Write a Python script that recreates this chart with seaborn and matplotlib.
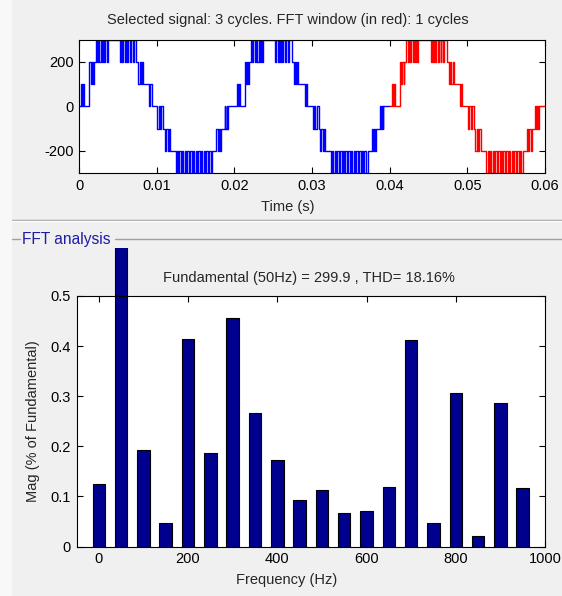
import numpy as np
import pandas as pd
import matplotlib
matplotlib.use("Agg")
import matplotlib.pyplot as plt
import seaborn as sns
from matplotlib.patches import Rectangle
from matplotlib.lines import Line2D

# ---------------- data ----------------
# One cycle of the multilevel PWM voltage:
# switching instants (ms within a 20 ms cycle) and level after the switch
cycle_ms = [0.30, 0.45, 0.55, 0.70, 1.35, 1.50, 1.65, 1.80, 1.90, 2.15, 2.30, 2.45, 2.60, 2.80, 2.95,
            3.15, 3.25, 3.40, 3.55, 3.70, 5.30, 5.40, 5.60, 5.70, 5.90, 6.00, 6.20,
            6.30, 6.55, 6.65, 6.90, 7.05, 7.40, 7.65, 7.80, 7.95, 8.10, 8.25, 9.05,
            9.20, 9.35, 10.10, 10.25, 10.45, 10.60, 10.85, 11.05, 11.20, 11.40, 11.55,
            11.70, 12.45, 12.60, 12.75, 12.90, 13.10, 13.25, 13.45, 13.60, 13.80, 13.95,
            14.15, 14.30, 14.50, 14.65, 14.85, 15.00, 15.20, 15.35, 15.55, 15.70, 15.90,
            16.05, 16.25, 16.40, 16.60, 16.75, 16.95, 17.15, 17.70, 17.85, 18.00, 18.15,
            18.30, 18.75, 18.85, 19.00, 19.10, 19.20]
cycle_level = [100, 0, 100, 0, 200, 100, 200, 100, 200, 300, 200, 300, 200, 300, 200,
               300, 200, 300, 200, 300, 200, 300, 200, 300, 200, 300, 200,
               300, 200, 300, 200, 300, 200, 100, 200, 100, 200, 100, 0,
               100, 0, -100, 0, -100, 0, -100, -200, -100, -200, -100,
               -200, -300, -200, -300, -200, -300, -200, -300, -200, -300, -200,
               -300, -200, -300, -200, -300, -200, -300, -200, -300, -200, -300,
               -200, -300, -200, -300, -200, -300, -200, -100, -200, -100, -200,
               -100, 0, -100, 0, -100, 0]
n_cycles = 3
period_ms = 20.0
fft_window_start_s = 0.04

freq_hz = [0, 50, 100, 150, 200, 250, 300, 350, 400, 450,
           500, 550, 600, 650, 700, 750, 800, 850, 900, 950]
mag_pct = [0.125, 100.0, 0.193, 0.047, 0.414, 0.187, 0.457, 0.267, 0.172, 0.092,
           0.112, 0.066, 0.071, 0.119, 0.413, 0.046, 0.307, 0.020, 0.287, 0.116]

top_title = "Selected signal: 3 cycles. FFT window (in red): 1 cycles"
top_xlabel = "Time (s)"
bot_title = "Fundamental (50Hz) = 299.9 , THD= 18.16%"
bot_xlabel = "Frequency (Hz)"
bot_ylabel = "Mag (% of Fundamental)"
panel_label = "FFT analysis"
top_xticks = [0, 0.01, 0.02, 0.03, 0.04, 0.05, 0.06]
top_xticklabels = ["0", "0.01", "0.02", "0.03", "0.04", "0.05", "0.06"]
top_yticks = [-200, 0, 200]
top_yticklabels = ["-200", "0", "200"]
bot_xticks = [0, 200, 400, 600, 800, 1000]
bot_yticks = [0, 0.1, 0.2, 0.3, 0.4, 0.5]
bot_yticklabels = ["0", "0.1", "0.2", "0.3", "0.4", "0.5"]

# ---------------- build waveform table ----------------
t = [0.0]
v = [0]
for c in range(n_cycles):
    for ms, lv in zip(cycle_ms, cycle_level):
        t.append((c * period_ms + ms) / 1000.0)
        v.append(lv)
t.append(n_cycles * period_ms / 1000.0)
v.append(v[-1])
wave = pd.DataFrame({"t": t, "v": v})
blue = wave[wave.t < fft_window_start_s]
last_level = blue.v.iloc[-1]
blue = pd.concat([blue, pd.DataFrame({"t": [fft_window_start_s], "v": [last_level]})])
red = pd.concat([pd.DataFrame({"t": [fft_window_start_s], "v": [last_level]}),
                 wave[wave.t > fft_window_start_s]])

bars = pd.DataFrame({"f": freq_hz, "m": mag_pct})

# ---------------- style ----------------
sns.set_style("ticks")
plt.rcParams["font.family"] = ["Liberation Sans", "DejaVu Sans"]
plt.rcParams["font.size"] = 10
plt.rcParams["axes.unicode_minus"] = False
plt.rcParams["xtick.direction"] = "in"
plt.rcParams["ytick.direction"] = "in"
plt.rcParams["xtick.top"] = True
plt.rcParams["ytick.right"] = True
plt.rcParams["axes.edgecolor"] = "black"
plt.rcParams["xtick.color"] = "black"
plt.rcParams["ytick.color"] = "black"
plt.rcParams["axes.linewidth"] = 0.8

W, H = 562, 596
fig = plt.figure(figsize=(W / 100, H / 100), dpi=100, facecolor="#f0f0f0")

def fx(px):
    return px / W

def fy(py):
    return 1 - py / H

# left light strip
fig.patches.append(Rectangle((0, 0), fx(12), 1, transform=fig.transFigure,
                             facecolor="#f8f8f8", edgecolor="none", zorder=0))

# ---------------- top axes ----------------
ax1 = fig.add_axes([fx(79), fy(173), fx(545 - 79), fy(39.5) - fy(173)])
ax1.set_facecolor("white")
sns.lineplot(data=blue, x="t", y="v", ax=ax1, color="#0000ff", lw=1.0,
             drawstyle="steps-post", estimator=None, sort=False)
sns.lineplot(data=red, x="t", y="v", ax=ax1, color="#ff0000", lw=1.0,
             drawstyle="steps-post", estimator=None, sort=False)
ax1.set_xlim(0, 0.06)
ax1.set_ylim(-300, 300)
ax1.set_xticks(top_xticks)
ax1.set_xticklabels(top_xticklabels)
ax1.set_yticks(top_yticks)
ax1.set_yticklabels(top_yticklabels)
ax1.set_xlabel("")
ax1.set_ylabel("")
ax1.tick_params(length=4, width=0.8, labelsize=10.5, pad=4)
for s in ax1.spines.values():
    s.set_visible(True)
    s.set_zorder(5)

fig.text(fx(288), fy(20), top_title, ha="center", va="center", fontsize=10.5)
fig.text(fx(288), fy(207), top_xlabel, ha="center", va="center", fontsize=10.5)

# separator lines
fig.add_artist(Line2D([fx(12), 1], [fy(220.5), fy(220.5)], transform=fig.transFigure,
                      color="#a0a0a0", lw=1.0))
fig.add_artist(Line2D([fx(12), 1], [fy(221.5), fy(221.5)], transform=fig.transFigure,
                      color="#ffffff", lw=1.0))
fig.add_artist(Line2D([fx(12), fx(20)], [fy(239), fy(239)], transform=fig.transFigure,
                      color="#a0a0a0", lw=1.0))
fig.add_artist(Line2D([fx(115), 1], [fy(239), fy(239)], transform=fig.transFigure,
                      color="#a0a0a0", lw=1.0))
fig.text(fx(21.5), fy(239), panel_label, ha="left", va="center", fontsize=11.2,
         color="#1c1ca8")

# ---------------- bottom axes ----------------
ax2 = fig.add_axes([fx(76.5), fy(546.5), fx(545 - 76.5), fy(296) - fy(546.5)])
ax2.set_facecolor("white")
sns.barplot(data=bars, x="f", y="m", ax=ax2, native_scale=True, width=0.56,
            color="#00008f", saturation=1, edgecolor="black", linewidth=0.8)
ax2.set_xlim(-50, 1000)
ax2.set_ylim(0, 0.5)
ax2.set_xticks(bot_xticks)
ax2.set_yticks(bot_yticks)
ax2.set_yticklabels(bot_yticklabels)
ax2.set_xlabel("")
ax2.set_ylabel("")
ax2.tick_params(length=4, width=0.8, labelsize=10.5, pad=4)
for s in ax2.spines.values():
    s.set_visible(True)
    s.set_zorder(5)

# fundamental bar runs out of the axes (clipped at the panel)
clip = Rectangle((-50, 0), 1050, 0.596, transform=ax2.transData)
for p in ax2.patches:
    p.set_clip_on(True)
    p.set_clip_path(clip)

fig.text(fx(309), fy(278), bot_title, ha="center", va="center", fontsize=10.5)
fig.text(fx(287), fy(580), bot_xlabel, ha="center", va="center", fontsize=10.5)
fig.text(fx(33), fy(421), bot_ylabel, ha="center", va="center", rotation=90,
         fontsize=10.5)

fig.savefig("out.png", dpi=100, facecolor=fig.get_facecolor())
